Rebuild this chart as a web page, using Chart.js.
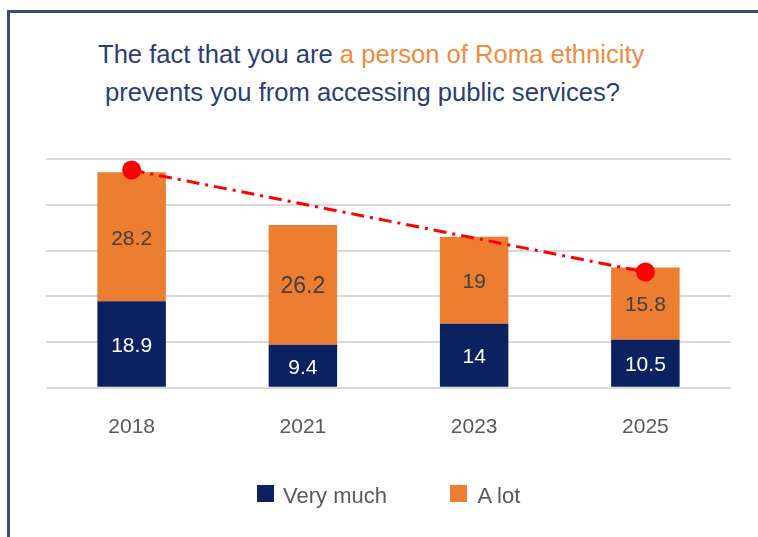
<!DOCTYPE html>
<html>
<head>
<meta charset="utf-8">
<script src="https://cdn.jsdelivr.net/npm/chart.js@4"></script>
<style>
  html, body { margin: 0; padding: 0; background: #fff; }
  body { width: 758px; height: 537px; position: relative; overflow: hidden; font-family: "Liberation Sans", Arial, sans-serif; }
  .frame { position: absolute; left: 7px; top: 10px; width: 780px; height: 560px; border-left: 3px solid #3b4a78; border-top: 3px solid #3b4a78; }
  .title { position: absolute; font-size: 25.6px; line-height: 1; color: #2b3d74; white-space: nowrap; }
  .title .hl { color: #f08a3e; }
  .leg { position: absolute; font-size: 22px; line-height: 1; color: #595959; white-space: nowrap; }
  .sw { position: absolute; width: 17px; height: 17px; }
  canvas { position: absolute; left: 0; top: 0; }
</style>
</head>
<body>
<div class="frame"></div>
<div class="title" style="left:98px; top:41.6px;">The fact that you are <span class="hl">a person of Roma ethnicity</span></div>
<div class="title" style="left:105px; top:80px;">prevents you from accessing public services?</div>
<canvas id="chartRoma" width="758" height="537"></canvas>
<div class="sw" style="left:257px; top:485px; background:#0b2160;"></div>
<div class="leg" style="left:283px; top:484.7px;">Very much</div>
<div class="sw" style="left:450px; top:485px; background:#ed7d31;"></div>
<div class="leg" style="left:477.5px; top:484.7px;">A lot</div>

<script>
// Datos
const years = ["2018", "2021", "2023", "2025"];
const veryMuch = [18.9, 9.4, 14, 10.5];
const aLot = [28.2, 26.2, 19, 15.8];
const trend = [47.6, null, null, 25.3];

// etiquetas de valor dentro de cada segmento
const barLabels = {
  id: "barLabels",
  afterDatasetsDraw(chart) {
    const ctx = chart.ctx;
    chart.data.datasets.forEach(function (ds, i) {
      if (ds.type === "line") return;
      const meta = chart.getDatasetMeta(i);
      meta.data.forEach(function (bar, j) {
        const p = bar.getProps(["x", "y", "base"], true);
        const size = ds.labelSizes ? ds.labelSizes[j] : 21;
        ctx.save();
        ctx.font = size + 'px "Liberation Sans", Arial, sans-serif';
        ctx.fillStyle = ds.labelColor;
        ctx.textAlign = "center";
        ctx.textBaseline = "middle";
        ctx.fillText(String(ds.data[j]), p.x, (p.y + p.base) / 2 + 2);
        ctx.restore();
      });
    });
  },
};

new Chart(document.getElementById("chartRoma"), {
  type: "bar",
  data: {
    labels: years,
    datasets: [
      {
        type: "line",
        label: "Trend",
        data: trend,
        stack: "trend",
        spanGaps: true,
        borderColor: "#ff0000",
        borderWidth: 3,
        borderDash: [13, 6, 3, 6],
        pointRadius: 9.5,
        pointBackgroundColor: "#ff0000",
        pointBorderWidth: 0,
        order: 0,
      },
      {
        label: "Very much",
        data: veryMuch,
        backgroundColor: "#0b2160",
        labelColor: "#ffffff",
        order: 1,
      },
      {
        label: "A lot",
        data: aLot,
        backgroundColor: "#ed7d31",
        labelColor: "#404040",
        labelSizes: [21, 23, 21, 21],
        order: 1,
      },
    ],
  },
  options: {
    responsive: false,
    animation: false,
    devicePixelRatio: 1,
    layout: { padding: { left: 46, right: 27, top: 159, bottom: 70 } },
    datasets: { bar: { categoryPercentage: 1, barPercentage: 0.4 } },
    plugins: {
      legend: { display: false },
      tooltip: { enabled: false },
    },
    scales: {
      x: {
        stacked: true,
        grid: { display: false, drawTicks: false },
        border: { display: false },
        ticks: {
          padding: 27,
          color: "#595959",
          font: { family: '"Liberation Sans", Arial, sans-serif', size: 21 },
        },
      },
      y: {
        stacked: true,
        min: 0,
        max: 50,
        ticks: { display: false, stepSize: 10 },
        grid: { color: "#d9d9d9", lineWidth: 2, drawTicks: false },
        border: { display: false },
      },
    },
  },
  plugins: [barLabels],
});
</script>
</body>
</html>
